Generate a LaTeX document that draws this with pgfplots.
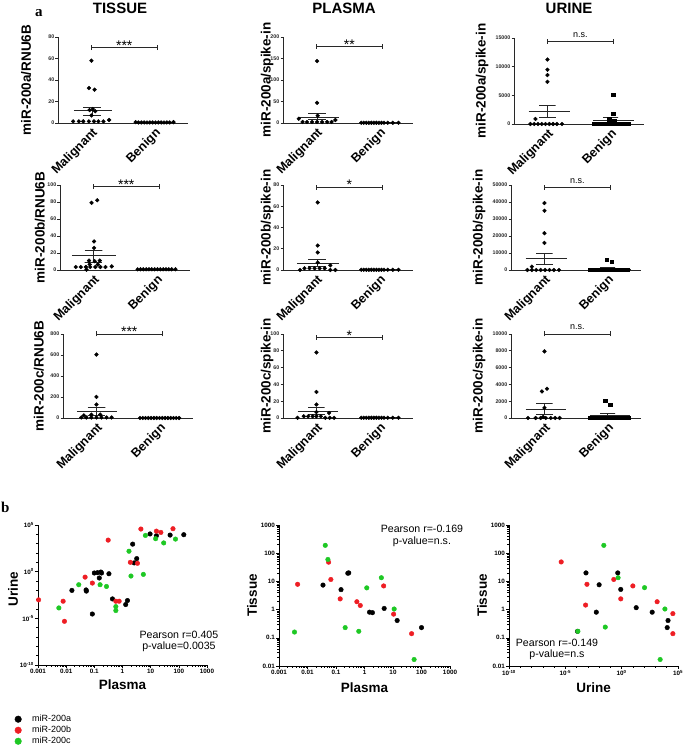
\documentclass[border=0pt]{standalone}
\usepackage{pgfplots}
\pgfplotsset{compat=1.18}
\usepackage{fontspec}
\setmainfont{Liberation Sans}
\newfontfamily\panelfont{Liberation Serif}

\definecolor{axgray}{RGB}{40,40,40}
\definecolor{mred}{RGB}{238,30,36}
\definecolor{mgreen}{RGB}{30,200,36}

\newcommand{\tickfont}{\fontsize{5.3}{6}\selectfont\bfseries}
\newcommand{\stickfont}{\fontsize{6.3}{7}\selectfont\bfseries}
\newcommand{\labfont}{\fontsize{13.5}{15}\selectfont\bfseries}
\newcommand{\catfont}{\fontsize{12.5}{14}\selectfont\bfseries}
\newcommand{\annfont}{\fontsize{10.6}{11.5}\selectfont}

% significance bracket: y, text, text shift
\newcommand{\sig}[3]{%
  \draw[axgray, line width=0.8pt] (axis cs:1,#1) -- (axis cs:2.05,#1);
  \draw[axgray, line width=0.8pt] (axis cs:1,#1) ++(0pt,-2.5pt) -- ++(0pt,5pt);
  \draw[axgray, line width=0.8pt] (axis cs:2.05,#1) ++(0pt,-2.5pt) -- ++(0pt,5pt);
  \node[anchor=base, inner sep=0pt, yshift=#3] at (axis cs:1.52,#1) {#2};}
\newcommand{\stars}[1]{\fontsize{14}{14}\selectfont #1}
\newcommand{\ns}{\fontsize{9}{10}\selectfont n.s.}

\pgfplotsset{
  dotplot/.style={
    scale only axis, width=130pt,
    axis lines=left, axis line style={-, axgray, line width=0.9pt},
    xmin=0.47, xmax=2.53, ymin=0,
    xtick={1,2}, xticklabels={Malignant,Benign},
    x tick style={draw=none},
    xticklabel style={font=\catfont, rotate=45, anchor=north east, inner sep=1pt},
    tick align=outside, major tick length=2.5pt,
    y tick style={axgray, line width=0.6pt},
    yticklabel style={font=\tickfont, text=axgray, inner sep=1pt},
    ylabel style={font=\labfont, anchor=center},
    scaled y ticks=false,
    /pgf/number format/1000 sep={},
    /pgf/number format/assume math mode=true,
    clip=false,
  },
  corrplot/.style={
    scale only axis,
    axis lines=left, axis line style={-, black, line width=0.9pt},
    tick align=outside, major tick length=3pt, minor tick length=1.6pt,
    tick style={black, line width=0.6pt},
    ticklabel style={font=\stickfont, inner sep=1pt},
    xlabel style={font=\labfont, anchor=center},
    ylabel style={font=\labfont, anchor=center},
    clip=false,
  },
}
\tikzset{
  jdot/.style={only marks, mark=*, mark size=1.9pt, black},
  jsq/.style={only marks, mark=square*, mark size=1.7pt, black},
  meanl/.style={black!85, line width=0.9pt},
}

\begin{document}
\begin{tikzpicture}
\path[use as bounding box] (0pt,0pt) rectangle (685pt,747pt);
% lower left corners of the axis boxes
\coordinate (r1c1) at (58pt,624pt);
\coordinate (r1c2) at (283pt,624pt);
\coordinate (r1c3) at (514pt,623pt);
\coordinate (r2c1) at (60pt,477pt);
\coordinate (r2c2) at (283pt,477pt);
\coordinate (r2c3) at (511pt,477pt);
\coordinate (r3c1) at (63pt,329pt);
\coordinate (r3c2) at (283pt,329pt);
\coordinate (r3c3) at (511pt,329pt);
\coordinate (s1) at (38pt,82pt);
\coordinate (s2) at (279pt,81pt);
\coordinate (s3) at (509pt,81pt);

\node[anchor=base west, inner sep=0pt, font=\panelfont\bfseries\fontsize{15}{15}\selectfont] at (35pt,730pt) {a};
\node[anchor=base west, inner sep=0pt, font=\panelfont\bfseries\fontsize{15}{15}\selectfont] at (1pt,234pt) {b};
\node[anchor=base, inner sep=0pt, font=\fontsize{15}{15}\selectfont\bfseries] at (120pt,733pt) {TISSUE};
\node[anchor=base, inner sep=0pt, font=\fontsize{15}{15}\selectfont\bfseries] at (344pt,733pt) {PLASMA};
\node[anchor=base, inner sep=0pt, font=\fontsize{15}{15}\selectfont\bfseries] at (569pt,733pt) {URINE};

%% ---------- row 1 : miR-200a ----------
\begin{axis}[dotplot, at={(r1c1)}, anchor=south west, height=86pt,
  ymax=80, ytick={0,20,...,80}, ylabel={miR-200a/RNU6B},
  ylabel style={at={(axis description cs:-0.246,0.5)}}]
\addplot[jdot] coordinates {(1.0,58)(0.96,32.5)(1.05,31)(1.02,13)(0.97,12)(1.06,11)(1.0,7)
  (0.71,1.5)(0.8,1.5)(0.87,1.5)(0.96,1.5)(1.04,1.5)(1.11,1.5)(1.19,1.5)(1.28,2.8)};
\addplot[jdot] coordinates {(1.70,0.8)(1.745,0.5)(1.79,0.5)(1.835,0.5)(1.88,0.5)(1.925,0.5)(1.97,0.5)
  (2.015,0.5)(2.06,0.5)(2.105,0.5)(2.15,0.5)(2.195,0.5)(2.24,0.5)(2.3,0.8)};
\addplot[meanl, no marks] coordinates {(0.72,11.4)(1.33,11.4)};
\addplot[meanl, no marks] coordinates {(0.87,14.8)(1.15,14.8)(1.01,14.8)(1.01,7.4)(0.87,7.4)(1.15,7.4)};
\addplot[meanl, no marks] coordinates {(1.7,0.6)(2.3,0.6)};
\sig{70}{\stars{***}}{-2.7pt}
\end{axis}

\begin{axis}[dotplot, at={(r1c2)}, anchor=south west, height=86pt,
  ymax=200, ytick={0,50,...,200}, ylabel={miR-200a/spike-in},
  ylabel style={at={(axis description cs:-0.123,0.5)}}]
\addplot[jdot] coordinates {(1.01,144)(1.01,47)(1.02,17)(0.72,10)(1.30,7)
  (0.78,2.4)(0.85,2.4)(0.93,2.4)(1.01,2.4)(1.09,2.4)(1.17,2.4)(1.24,2.4)};
\addplot[jdot] coordinates {(1.71,0.5)(1.75,0.5)(1.79,0.5)(1.83,0.5)(1.87,0.5)(1.91,0.5)(1.95,0.5)
  (1.99,0.5)(2.03,0.5)(2.07,0.5)(2.13,0.5)(2.21,0.5)(2.30,0.5)};
\addplot[meanl, no marks] coordinates {(0.7,13.5)(1.35,13.5)};
\addplot[meanl, no marks] coordinates {(0.87,21.4)(1.15,21.4)(1.01,21.4)(1.01,7.1)(0.87,7.1)(1.15,7.1)};
\addplot[meanl, no marks] coordinates {(1.7,0.5)(2.3,0.5)};
\sig{178}{\stars{**}}{-2.7pt}
\end{axis}

\begin{axis}[dotplot, at={(r1c3)}, anchor=south west, height=86pt,
  ymax=15000, ytick={0,5000,10000,15000}, ylabel={miR-200a/spike-in},
  ylabel style={at={(axis description cs:-0.246,0.5)}}]
\addplot[jdot] coordinates {(1.0,11240)(1.0,9470)(1.0,8530)(1.0,7350)(0.81,880)
  (0.73,0)(0.79,0)(0.85,0)(0.91,0)(0.97,0)(1.03,0)(1.09,0)(1.15,0)(1.23,0)};
\addplot[jsq] coordinates {(2.04,5120)(2.04,1820)(1.98,880)(2.06,600)(1.74,0)(1.80,0)(1.86,0)
  (1.92,0)(1.98,150)(2.04,150)(2.10,0)(2.16,0)(2.22,0)(2.29,0)};
\addplot[meanl, no marks] coordinates {(0.7,2180)(1.36,2180)};
\addplot[meanl, no marks] coordinates {(0.87,3180)(1.13,3180)(1,3180)(1,1180)(0.87,1180)(1.13,1180)};
\addplot[meanl, no marks] coordinates {(1.72,590)(2.37,590)};
\addplot[meanl, no marks] coordinates {(1.88,1060)(2.12,1060)(2,1060)(2,120)(1.88,120)(2.12,120)};
\sig{14470}{\ns}{4pt}
\end{axis}

%% ---------- row 2 : miR-200b ----------
\begin{axis}[dotplot, at={(r2c1)}, anchor=south west, height=85pt,
  ymax=100, ytick={0,20,...,100}, ylabel={miR-200b/RNU6B},
  ylabel style={at={(axis description cs:-0.154,0.5)}}]
\addplot[jdot] coordinates {(1.06,82)(0.97,79)(1.01,33.6)(1.01,26)(0.93,11)(1.02,10.4)(1.10,11)
  (0.94,6.5)(1.07,6.5)(0.72,3.5)(0.8,3.5)(0.88,3.5)(0.95,3.5)(1.03,3.5)(1.11,3.5)(1.19,3.5)
  (1.29,4.2)(0.89,0.4)};
\addplot[jdot] coordinates {(1.70,0.8)(1.745,0.8)(1.79,0.8)(1.835,0.8)(1.88,0.8)(1.925,0.8)(1.97,0.8)
  (2.015,0.8)(2.06,0.8)(2.105,0.8)(2.15,0.8)(2.195,0.8)(2.24,0.8)(2.3,0.8)};
\addplot[meanl, no marks] coordinates {(0.66,16.6)(1.36,16.6)};
\addplot[meanl, no marks] coordinates {(0.86,23.5)(1.14,23.5)(1,23.5)(1,9.3)(0.86,9.3)(1.14,9.3)};
\addplot[meanl, no marks] coordinates {(1.7,0.8)(2.3,0.8)};
\sig{98}{\stars{***}}{-2.7pt}
\end{axis}

\begin{axis}[dotplot, at={(r2c2)}, anchor=south west, height=85pt,
  ymax=80, ytick={0,20,...,80}, ylabel={miR-200b/spike-in},
  ylabel style={at={(axis description cs:-0.123,0.5)}}]
\addplot[jdot] coordinates {(1.02,63.6)(1.02,23)(1.02,16.5)(1.02,7)(1.22,4.4)
  (0.81,1.6)(0.89,1.6)(0.97,1.6)(1.05,1.6)(1.13,1.6)(0.74,0)(1.22,0)(1.3,0)};
\addplot[jdot] coordinates {(1.71,0.2)(1.75,0.2)(1.79,0.2)(1.83,0.2)(1.87,0.2)(1.91,0.2)(1.95,0.2)
  (1.99,0.2)(2.03,0.2)(2.07,0.2)(2.13,0.2)(2.21,0.2)(2.30,0.2)};
\addplot[meanl, no marks] coordinates {(0.69,6.6)(1.35,6.6)};
\addplot[meanl, no marks] coordinates {(0.87,10)(1.15,10)(1.01,10)(1.01,3.2)(0.87,3.2)(1.15,3.2)};
\addplot[meanl, no marks] coordinates {(1.7,0.2)(2.3,0.2)};
\sig{78}{\stars{*}}{-2.7pt}
\end{axis}

\begin{axis}[dotplot, at={(r2c3)}, anchor=south west, height=85pt,
  ymax=50000, ytick={0,10000,...,50000}, ylabel={miR-200b/spike-in},
  ylabel style={at={(axis description cs:-0.246,0.5)}}]
\addplot[jdot] coordinates {(1.0,39370)(1.0,34840)(1.0,21650)(1.0,15940)(0.8,1970)
  (0.73,0)(0.8,0)(0.87,0)(0.94,0)(1.01,0)(1.08,0)(1.15,0)(1.23,0)};
\addplot[jsq] coordinates {(1.99,5900)(2.07,4920)(1.72,0)(1.78,0)(1.84,0)(1.9,0)(1.96,300)
  (2.02,300)(2.08,0)(2.14,0)(2.2,0)(2.26,0)(2.32,0)};
\addplot[meanl, no marks] coordinates {(0.7,6500)(1.36,6500)};
\addplot[meanl, no marks] coordinates {(0.87,9840)(1.13,9840)(1,9840)(1,3150)(0.87,3150)(1.13,3150)};
\addplot[meanl, no marks] coordinates {(1.72,600)(2.37,600)};
\addplot[meanl, no marks] coordinates {(1.88,1380)(2.12,1380)(2,1380)(2,0)};
\sig{48800}{\ns}{4pt}
\end{axis}

%% ---------- row 3 : miR-200c ----------
\begin{axis}[dotplot, at={(r3c1)}, anchor=south west, height=84pt,
  ymax=800, ytick={0,200,...,800}, ylabel={miR-200c/RNU6B},
  ylabel style={at={(axis description cs:-0.185,0.5)}}]
\addplot[jdot] coordinates {(1.0,604)(1.0,201)(1.0,128)(0.92,32)(1.06,32)(0.8,25)
  (0.76,5)(0.84,5)(0.92,5)(1.0,5)(1.08,5)(1.16,5)(1.24,5)};
\addplot[jdot] coordinates {(1.69,0)(1.734,0)(1.778,0)(1.822,0)(1.866,0)(1.91,0)(1.954,0)(2.0,0)
  (2.044,0)(2.088,0)(2.132,0)(2.176,0)(2.22,0)(2.264,0)(2.31,0)};
\addplot[meanl, no marks] coordinates {(0.69,64)(1.33,64)};
\addplot[meanl, no marks] coordinates {(0.86,99)(1.14,99)(1,99)(1,26)(0.86,26)(1.14,26)};
\addplot[meanl, no marks] coordinates {(1.7,2)(2.3,2)};
\sig{800}{\stars{***}}{-2.7pt}
\end{axis}

\begin{axis}[dotplot, at={(r3c2)}, anchor=south west, height=84pt,
  ymax=100, ytick={0,20,...,100}, ylabel={miR-200c/spike-in},
  ylabel style={at={(axis description cs:-0.123,0.5)}}]
\addplot[jdot] coordinates {(1.0,78)(1.0,31)(1.0,16)(1.0,7)(1.2,6)
  (0.8,2)(0.87,2)(0.94,2)(1.0,2)(1.07,2)(0.7,0.2)(1.14,0.2)(1.21,0.2)(1.28,0.2)};
\addplot[jdot] coordinates {(1.71,0.3)(1.75,0.3)(1.79,0.3)(1.83,0.3)(1.87,0.3)(1.91,0.3)(1.95,0.3)
  (1.99,0.3)(2.03,0.3)(2.07,0.3)(2.13,0.3)(2.21,0.3)(2.30,0.3)};
\addplot[meanl, no marks] coordinates {(0.7,8)(1.34,8)};
\addplot[meanl, no marks] coordinates {(0.87,12.4)(1.13,12.4)(1,12.4)(1,4)(0.87,4)(1.13,4)};
\addplot[meanl, no marks] coordinates {(1.7,0.3)(2.3,0.3)};
\sig{96}{\stars{*}}{-2.7pt}
\end{axis}

\begin{axis}[dotplot, at={(r3c3)}, anchor=south west, height=84pt,
  ymax=10000, ytick={0,2000,...,10000}, ylabel={miR-200c/spike-in},
  ylabel style={at={(axis description cs:-0.246,0.5)}}]
\addplot[jdot] coordinates {(1.0,7930)(0.96,3160)(1.04,3480)(1.0,1210)(0.98,120)
  (0.74,0)(0.86,0)(0.94,0)(1.02,0)(1.1,0)(1.17,0)(1.24,0)};
\addplot[jsq] coordinates {(1.96,2070)(2.04,1560)(1.72,0)(1.78,0)(1.84,0)(1.9,0)(1.96,0)
  (2.02,0)(2.08,0)(2.14,0)(2.2,0)(2.27,0)(2.33,0)};
\addplot[meanl, no marks] coordinates {(0.7,1015)(1.34,1015)};
\addplot[meanl, no marks] coordinates {(0.87,1680)(1.13,1680)(1,1680)(1,430)(0.87,430)(1.13,430)};
\addplot[meanl, no marks] coordinates {(1.72,310)(2.35,310)};
\addplot[meanl, no marks] coordinates {(1.88,550)(2.12,550)(2,550)(2,70)(1.88,70)(2.12,70)};
\sig{10000}{\ns}{4pt}
\end{axis}

%% ---------- b: correlations ----------
\begin{loglogaxis}[corrplot, at={(s1)}, anchor=south west, width=169pt, height=140pt,
  xmin=1e-3, xmax=1e3, ymin=1e-10, ymax=1e5,
  xtick={1e-3,1e-2,1e-1,1,1e1,1e2,1e3}, xticklabels={0.001,0.01,0.1,1,10,100,1000},
  minor xtick={0.002,0.003,0.004,0.005,0.006,0.007,0.008,0.009,0.02,0.03,0.04,0.05,0.06,0.07,0.08,0.09,0.2,0.3,0.4,0.5,0.6,0.7,0.8,0.9,2,3,4,5,6,7,8,9,20,30,40,50,60,70,80,90,200,300,400,500,600,700,800,900},
  ytick={1e-10,1e-5,1,1e5},
  yticklabels={10\textsuperscript{-10},10\textsuperscript{-5},10\textsuperscript{0},10\textsuperscript{5}},
  minor ytick={1e-9,1e-8,1e-7,1e-6,1e-4,1e-3,1e-2,1e-1,1e1,1e2,1e3,1e4},
  xlabel={Plasma}, ylabel={Urine},
  xlabel style={at={(axis description cs:0.5,-0.143)}},
  ylabel style={at={(axis description cs:-0.148,0.54)}},
  legend style={at={(axis description cs:-0.138,-0.35)}, anchor=north west, draw=none, fill=none,
    font=\fontsize{9}{10}\selectfont, row sep=1pt, inner sep=0pt,
    nodes={inner sep=1pt}, cells={anchor=west}},
  legend image code/.code={\draw[#1, mark size=3.3pt] plot coordinates {(3.3pt,0pt)}; \path (16pt,0pt);},
]
\addplot[only marks, mark=*, mark size=2.3pt, black] coordinates {(0.016,0.0098)(0.051,0.011)(0.052,0.0083)(0.085,2.9e-5)
  (0.10,0.72)(0.13,0.78)(0.15,0.21)(0.17,0.91)(0.18,0.72)(0.33,0.60)(0.44,0.0012)
  (1.3,3.0e-4)(1.5,8.1e-4)(2.3,890)(2.6,8.7)(3.2,25)(9.5,1.1e4)(16,7.1e3)(49,8.3e3)(150,9.1e3)};
\addlegendentry{miR-200a}
\addplot[only marks, mark=*, mark size=2.3pt, mred] coordinates {(0.00105,9.5e-4)(0.0078,6.8e-4)(0.0087,4.8e-6)(0.047,0.26)
  (0.085,0.060)(0.31,2.4e3)(0.58,6.8e-4)(0.76,6.8e-4)(1.9,10)(3.4,7.9)(4.5,3.7e4)
  (16,2.2e4)(23,1.6e4)(62,4.0e4)};
\addlegendentry{miR-200b}
\addplot[only marks, mark=*, mark size=2.3pt, mgreen] coordinates {(0.0055,1.3e-4)(0.028,0.040)(0.16,0.040)(0.27,0.026)
  (0.58,1.8e-4)(0.58,6.8e-5)(1.7,155)(2.0,0.34)(5.5,0.51)(6.5,7.6e3)(15,3.4e3)(29,1.2e3)(76,3.1e3)};
\addlegendentry{miR-200c}
\node[align=center, font=\annfont] at (axis description cs:0.834,0.168) {Pearson r=0.405\\p-value=0.0035};
\end{loglogaxis}

\begin{loglogaxis}[corrplot, at={(s2)}, anchor=south west, width=171pt, height=141pt,
  xmin=1e-3, xmax=1e3, ymin=1e-2, ymax=1e3,
  xtick={1e-3,1e-2,1e-1,1,1e1,1e2,1e3}, xticklabels={0.001,0.01,0.1,1,10,100,1000},
  minor xtick={0.002,0.003,0.004,0.005,0.006,0.007,0.008,0.009,0.02,0.03,0.04,0.05,0.06,0.07,0.08,0.09,0.2,0.3,0.4,0.5,0.6,0.7,0.8,0.9,2,3,4,5,6,7,8,9,20,30,40,50,60,70,80,90,200,300,400,500,600,700,800,900},
  minor ytick={0.02,0.03,0.04,0.05,0.06,0.07,0.08,0.09,0.2,0.3,0.4,0.5,0.6,0.7,0.8,0.9,2,3,4,5,6,7,8,9,20,30,40,50,60,70,80,90,200,300,400,500,600,700,800,900},
  ytick={1e-2,1e-1,1,1e1,1e2,1e3}, yticklabels={0.01,0.1,1,10,100,1000},
  xlabel={Plasma}, ylabel={Tissue},
  xlabel style={at={(axis description cs:0.5,-0.156)}},
  ylabel style={at={(axis description cs:-0.158,0.5)}},
]
\addplot[only marks, mark=*, mark size=2.3pt, black] coordinates {(0.035,7.4)(0.15,5.1)(0.26,19.5)(0.28,20)(1.5,0.81)(1.9,0.78)
  (4.9,1.1)(14,0.41)(100,0.23)};
\addplot[only marks, mark=*, mark size=2.3pt, mred] coordinates {(0.0045,7.9)(0.055,48)(0.066,11.7)(0.14,2.4)(0.54,1.9)(0.71,1.4)
  (4.7,6.9)(10.5,0.69)(45,0.14)};
\addplot[only marks, mark=*, mark size=2.3pt, mgreen] coordinates {(0.0035,0.16)(0.042,190)(0.052,60)(0.21,0.23)(0.63,0.17)
  (1.2,5.9)(3.9,13.5)(11,1.05)(55,0.017)};
\node[align=center, font=\annfont] at (axis description cs:0.836,0.922) {Pearson r=-0.169\\p-value=n.s.};
\end{loglogaxis}

\begin{loglogaxis}[corrplot, at={(s3)}, anchor=south west, width=169pt, height=141pt,
  xmin=1e-10, xmax=1e5, ymin=1e-2, ymax=1e3,
  xtick={1e-10,1e-5,1,1e5},
  xticklabels={10\textsuperscript{-10},10\textsuperscript{-5},10\textsuperscript{0},10\textsuperscript{5}},
  minor xtick={1e-9,1e-8,1e-7,1e-6,1e-4,1e-3,1e-2,1e-1,1e1,1e2,1e3,1e4},
  minor ytick={0.02,0.03,0.04,0.05,0.06,0.07,0.08,0.09,0.2,0.3,0.4,0.5,0.6,0.7,0.8,0.9,2,3,4,5,6,7,8,9,20,30,40,50,60,70,80,90,200,300,400,500,600,700,800,900},
  ytick={1e-2,1e-1,1,1e1,1e2,1e3}, yticklabels={0.01,0.1,1,10,100,1000},
  xlabel={Urine}, ylabel={Tissue},
  xlabel style={at={(axis description cs:0.5,-0.156)}},
  ylabel style={at={(axis description cs:-0.16,0.5)}},
]
\addplot[only marks, mark=*, mark size=2.3pt, black] coordinates {(1.2e-4,0.17)(6.8e-4,20)(0.0056,0.81)(0.010,7.6)(0.45,20)
  (0.83,5.2)(19.5,1.17)(510,0.81)(1.3e4,0.41)(1.1e4,0.23)};
\addplot[only marks, mark=*, mark size=2.3pt, mred] coordinates {(4.3e-6,49)(6.3e-4,1.45)(8.3e-4,7.9)(0.20,11.7)(0.83,2.4)
  (9.8,6.9)(1.4e3,1.9)(3.5e4,0.72)(3.5e4,0.14)};
\addplot[only marks, mark=*, mark size=2.3pt, mgreen] coordinates {(1.3e-4,0.17)(0.026,190)(0.035,0.24)(0.48,13.5)(107,6.0)
  (6.9e3,1.05)(2.6e3,0.017)};
\node[align=center, font=\annfont] at (axis description cs:0.284,0.117) {Pearson r=-0.149\\p-value=n.s};
\end{loglogaxis}
\end{tikzpicture}
\end{document}
